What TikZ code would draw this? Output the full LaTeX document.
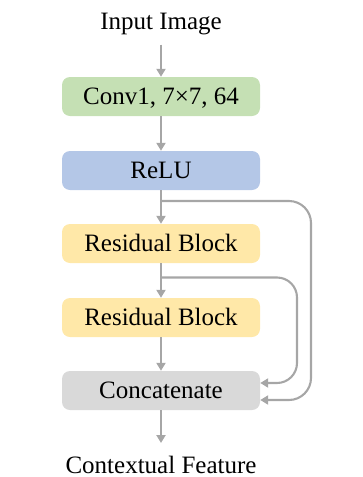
\documentclass[tikz,border=0pt]{standalone}
\usepackage{fontspec}
\setmainfont{Liberation Serif}
\usepackage{xcolor}
\usetikzlibrary{arrows.meta,positioning,calc}
\definecolor{convbg}{HTML}{C5E0B4}
\definecolor{relubg}{HTML}{B4C7E7}
\definecolor{resbg}{HTML}{FFE8A8}
\definecolor{catbg}{HTML}{D9D9D9}
\definecolor{linegray}{HTML}{A6A6A6}

\begin{document}
\begin{tikzpicture}[
  x=1pt, y=1pt,
  blk/.style={
    draw=none, rounded corners=8pt,
    minimum height=39pt, minimum width=198pt, inner sep=0pt,
    text height=16.5pt, text depth=0pt,
    font=\fontsize{25}{30}\selectfont
  },
  txt/.style={font=\fontsize{25}{30}\selectfont, inner sep=0pt, anchor=base},
  arr/.style={-{Triangle[length=8pt,width=9pt]}, linegray, line width=2.1pt}
]
  \useasboundingbox (0,0) rectangle (363,-477);

  % Input -> Conv1 -> ReLU -> Residual -> Residual -> Concatenate -> Output
  \node[txt] (in)   at (161,-29.5) {Input Image};
  \node[blk, fill=convbg] (conv) at (161,-96.5) {Conv1, 7×7, 64};
  \node[blk, fill=relubg] (relu) at (161,-170.5) {ReLU};
  \node[blk, fill=resbg]  (res1) at (161,-243.5) {Residual Block};
  \node[blk, fill=resbg]  (res2) at (161,-317.5) {Residual Block};
  \node[blk, fill=catbg]  (cat)  at (161,-390.5) {Concatenate};
  \node[txt] (out)  at (161,-473) {Contextual Feature};

  % branch points for the skip paths
  \coordinate (b1) at (161,-201);
  \coordinate (b2) at (161,-277.5);

  \draw[arr] ([yshift=-15pt]in.base) -- (conv.north);
  \draw[arr] (conv.south) -- (relu.north);
  \draw[arr] (relu.south) -- (res1.north);
  \draw[arr] (res1.south) -- (res2.north);
  \draw[arr] (res2.south) -- (cat.north);
  \draw[arr] (cat.south) -- ([yshift=30pt]out.base);

  \draw[arr, rounded corners=22pt]
    (b1) -- ++(150,0) |- ([yshift=-9.5pt]cat.east);
  \draw[arr, rounded corners=20pt]
    (b2) -- ++(136,0) |- ([yshift=7.5pt]cat.east);
\end{tikzpicture}
\end{document}
